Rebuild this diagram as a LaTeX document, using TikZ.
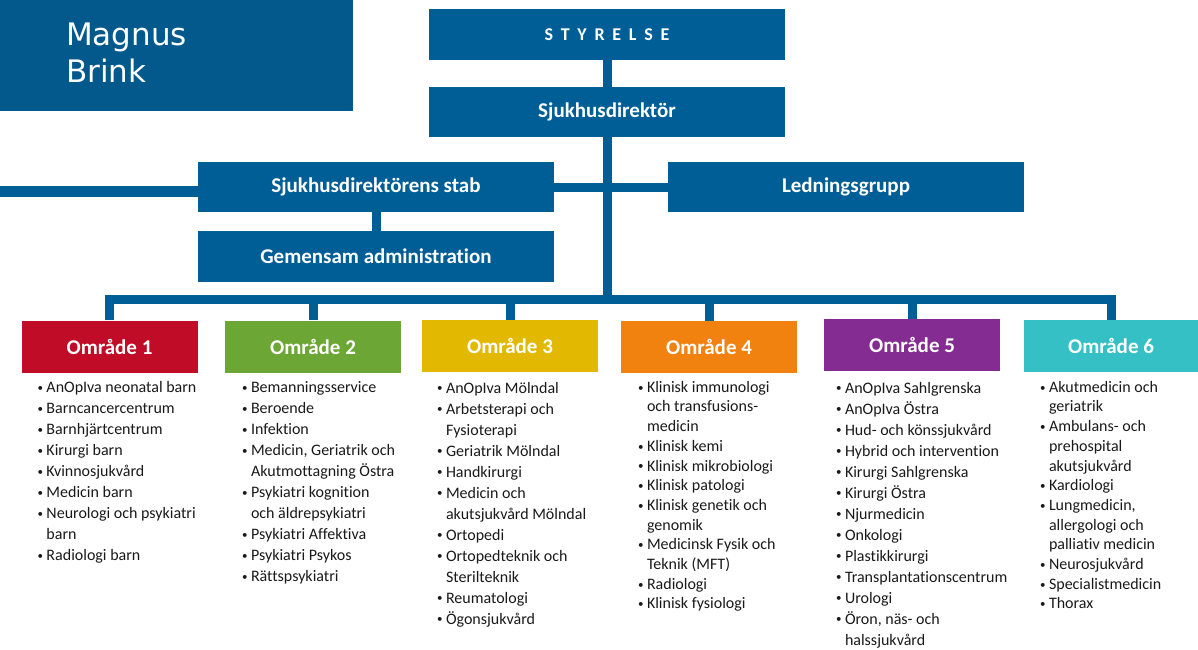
\documentclass[tikz,border=0pt]{standalone}
\usepackage{fontspec}
\setmainfont{Carlito}[Ligatures=NoCommon]
\newfontfamily\namefont{DejaVu Sans}
\usetikzlibrary{positioning}
\definecolor{orgblue}{RGB}{0,94,150}
\definecolor{nameblue}{RGB}{3,89,139}
\definecolor{omr1}{RGB}{192,12,39}
\definecolor{omr2}{RGB}{108,166,52}
\definecolor{omr3}{RGB}{226,184,0}
\definecolor{omr4}{RGB}{242,130,16}
\definecolor{omr5}{RGB}{132,44,146}
\definecolor{omr6}{RGB}{52,192,196}
\newcommand{\bul}{\makebox[9pt][l]{\raisebox{1.2pt}{\fontsize{11}{11}\selectfont\textbullet}}}
\newcommand{\ind}{\hspace*{9pt}}

\begin{document}
\begin{tikzpicture}[x=1pt,y=-1pt]
			\tikzstyle{box}=[rectangle,fill=orgblue,text=white,inner sep=0pt,minimum width=356pt,minimum height=50pt,font=\fontsize{21}{25}\selectfont\bfseries]
			\tikzstyle{area}=[rectangle,text=white,inner sep=0pt,minimum width=176pt,minimum height=52pt,font=\fontsize{21}{25}\selectfont\bfseries]
			\tikzstyle{lst}=[align=left,inner sep=0pt,text=black!90,font=\fontsize{16}{21}\selectfont]
			\tikzstyle{lsttight}=[lst,font=\fontsize{16}{19.7}\selectfont]
			\tikzstyle{conn}=[draw=orgblue,line width=9pt]
			\useasboundingbox (0,0) rectangle (1198,649);

			\fill[nameblue] (0,0) rectangle (353,111);
			\node[anchor=north west,inner sep=0pt,align=left,text=white,font=\namefont\fontsize{31}{37}\selectfont] (name) at (66,19) {\strut Magnus\\Brink};

			\begin{scope}
			\node[box,minimum height=51pt,font=\fontsize{18}{20}\selectfont\bfseries] (sty) at (607,34.5) {\addfontfeature{LetterSpace=43}STYRELSE};
			\node[box] (dir)  at (607,112) {Sjukhusdirektör};
			\node[box] (stab) at (376,187) {Sjukhusdirektörens stab};
			\node[box] (led)  at (846,187) {Ledningsgrupp};
			\node[box,minimum height=51pt] (gem) at (376,256.5) {Gemensam administration};
			\node[area,fill=omr1] (a1) at (109.5,346.5) {Område 1};
			\node[area,fill=omr2] (a2) at (313,346.5)   {Område 2};
			\node[area,fill=omr3] (a3) at (510,346)     {Område 3};
			\node[area,fill=omr4] (a4) at (709,347)     {Område 4};
			\node[area,fill=omr5] (a5) at (912,345)     {Område 5};
			\node[area,fill=omr6,minimum width=174pt] (a6) at (1111,346) {Område 6};
			\end{scope}

			\coordinate (bus) at (605,299);
			\coordinate (lft) at (0,191);

			\path
			(sty) edge[conn] (dir)
			(dir.south) edge[conn] (dir.south |- bus)
			(stab) edge[conn] (led)
			(stab) edge[conn] (gem)
			(lft) edge[conn,line width=11pt] (stab.west |- lft)
			;
			\draw[conn] (a1.north) -- (a1.north |- bus) -- (a6.north |- bus) -- (a6.north);
			\foreach \a in {a2,a3,a4,a5}
			\draw[conn] (\a.north) -- (\a.north |- bus);

			\node[lst,below right=5pt and 16pt of a1.south west] (l1) {\strut\bul AnOpIva neonatal barn\\
				\bul Barncancercentrum\\ \bul Barnhjärtcentrum\\ \bul Kirurgi barn\\
				\bul Kvinnosjukvård\\ \bul Medicin barn\\ \bul Neurologi och psykiatri\\
				\ind barn\\ \bul Radiologi barn};
			\node[lst,below right=5pt and 17pt of a2.south west] (l2) {\strut\bul Bemanningsservice\\
				\bul Beroende\\ \bul Infektion\\ \bul Medicin, Geriatrik och\\
				\ind Akutmottagning Östra\\ \bul Psykiatri kognition\\ \ind och äldrepsykiatri\\
				\bul Psykiatri Affektiva\\ \bul Psykiatri Psykos\\ \bul Rättspsykiatri};
			\node[lst,below right=6pt and 15pt of a3.south west] (l3) {\strut\bul AnOpIva Mölndal\\
				\bul Arbetsterapi och\\ \ind Fysioterapi\\ \bul Geriatrik Mölndal\\
				\bul Handkirurgi\\ \bul Medicin och\\ \ind akutsjukvård Mölndal\\
				\bul Ortopedi\\ \bul Ortopedteknik och\\ \ind Sterilteknik\\
				\bul Reumatologi\\ \bul Ögonsjukvård};
			\node[lsttight,below right=5pt and 17pt of a4.south west] (l4) {\strut\bul Klinisk immunologi\\
				\ind och transfusions-\\ \ind medicin\\ \bul Klinisk kemi\\
				\bul Klinisk mikrobiologi\\ \bul Klinisk patologi\\ \bul Klinisk genetik och\\
				\ind genomik\\ \bul Medicinsk Fysik och\\ \ind Teknik (MFT)\\
				\bul Radiologi\\ \bul Klinisk fysiologi};
			\node[lst,below right=7pt and 12pt of a5.south west] (l5) {\strut\bul AnOpIva Sahlgrenska\\
				\bul AnOpIva Östra\\ \bul Hud- och könssjukvård\\ \bul Hybrid och intervention\\
				\bul Kirurgi Sahlgrenska\\ \bul Kirurgi Östra\\ \bul Njurmedicin\\
				\bul Onkologi\\ \bul Plastikkirurgi\\ \bul Transplantationscentrum\\
				\bul Urologi\\ \bul Öron, näs- och\\ \ind halssjukvård};
			\node[lsttight,below right=6pt and 16pt of a6.south west] (l6) {\strut\bul Akutmedicin och\\
				\ind geriatrik\\ \bul Ambulans- och\\ \ind prehospital\\ \ind akutsjukvård\\
				\bul Kardiologi\\ \bul Lungmedicin,\\ \ind allergologi och\\
				\ind palliativ medicin\\ \bul Neurosjukvård\\ \bul Specialistmedicin\\
				\bul Thorax};
		\end{tikzpicture}
\end{document}
